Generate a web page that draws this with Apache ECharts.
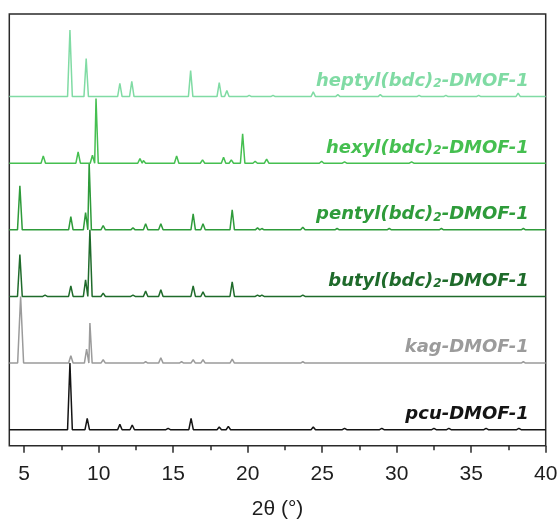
<!DOCTYPE html>
<html><head><meta charset="utf-8">
<script src="https://cdn.jsdelivr.net/npm/echarts@6/dist/echarts.min.js"></script>
<style>html,body{margin:0;padding:0;background:#fff}#c{width:560px;height:519px}</style>
</head><body><div id="c"></div>
<script>
// Peak lists: [2theta, relative height, optional half-width]
const pcuPeaks = [[8.07,1.0,0.16],[9.23,0.17],[11.42,0.08],[12.25,0.07],[14.66,0.02],[16.2,0.17],[18.09,0.04],[18.7,0.05],[24.4,0.04],[26.5,0.02],[29.0,0.02],[32.5,0.02],[33.5,0.02],[36.0,0.02],[38.2,0.02]];
const kagPeaks = [[4.76,1.0,0.2],[8.13,0.11],[9.19,0.21],[9.41,0.6],[10.3,0.05],[13.15,0.02],[14.17,0.08],[15.56,0.02],[16.34,0.05],[17.0,0.05],[18.96,0.06],[23.7,0.02],[38.5,0.02]];
const butylPeaks = [[4.71,0.63,0.16],[6.4,0.02],[8.13,0.16],[9.12,0.25],[9.41,1.0],[10.3,0.05],[12.3,0.02],[13.15,0.08],[14.17,0.1],[16.34,0.16],[17.0,0.07],[18.96,0.22],[20.66,0.02],[20.95,0.02],[23.7,0.02]];
const pentylPeaks = [[4.71,0.66,0.16],[8.13,0.2],[9.12,0.26],[9.36,1.0],[10.3,0.065],[12.3,0.03],[13.15,0.09],[14.17,0.09],[16.34,0.24],[17.0,0.09],[18.96,0.3],[20.66,0.03],[20.95,0.02],[23.7,0.04],[26.0,0.02],[29.5,0.02],[33.0,0.02],[38.5,0.02]];
const hexylPeaks = [[6.28,0.11],[8.62,0.17],[9.58,0.12],[9.82,0.97],[12.77,0.07],[13.0,0.04],[15.23,0.11],[16.97,0.05],[18.38,0.09],[18.9,0.05],[19.66,0.44],[20.5,0.03],[21.27,0.06],[24.96,0.03],[26.5,0.02],[31.0,0.02]];
const heptylPeaks = [[8.07,1.0,0.16],[9.16,0.57],[11.42,0.2],[12.22,0.23],[16.17,0.39],[18.09,0.21],[18.6,0.09],[20.1,0.02],[21.7,0.02],[24.4,0.07],[26.05,0.03],[28.9,0.03],[31.5,0.02],[33.3,0.02],[35.5,0.02],[38.15,0.05]];

const patterns = [pcuPeaks, kagPeaks, butylPeaks, pentylPeaks, hexylPeaks, heptylPeaks];
const offsets = [0, 1, 2, 3, 4, 5];
const labelParts = [
  ['pcu-DMOF-1'],
  ['kag-DMOF-1'],
  ['butyl(bdc)', '2', '-DMOF-1'],
  ['pentyl(bdc)', '2', '-DMOF-1'],
  ['hexyl(bdc)', '2', '-DMOF-1'],
  ['heptyl(bdc)', '2', '-DMOF-1']
];
const colors = ['#141414', '#9b9b9b', '#1f6b2b', '#2e9b3a', '#45bf50', '#80dba4'];
const xLabelValues = [5, 10, 15, 20, 25, 30, 35, 40];
const xMinorValues = [7.5, 12.5, 17.5, 22.5, 27.5, 32.5, 37.5];
const xMin = 4, xMax = 40;

function buildLine(peaks, off) {
  const pts = [[xMin, off]];
  peaks.forEach(p => {
    const w = p[2] || 0.15;
    const last = pts[pts.length - 1][0];
    if (p[0] - w > last) pts.push([p[0] - w, off]);
    pts.push([p[0], off + p[1]]);
    pts.push([p[0] + w, off]);
  });
  pts.push([xMax, off]);
  return pts;
}

const chart = echarts.init(document.getElementById('c'), null, {renderer: 'canvas'});
const series = patterns.map((pk, i) => ({
  type: 'line',
  data: buildLine(pk, offsets[i]),
  showSymbol: false,
  symbol: 'none',
  smooth: false,
  animation: false,
  lineStyle: {color: colors[i], width: 1.5},
  z: 2 + i
}));

chart.setOption({
  animation: false,
  grid: {left: 9.3, right: 14.3, top: 14, bottom: 73.3, outerBoundsMode: 'none', containLabel: false, show: true, borderColor: '#2a2a2a', borderWidth: 1.5, backgroundColor: 'transparent'},
  xAxis: [{
    type: 'value', min: xMin, max: xMax, position: 'bottom',
    axisLine: {show: false, onZero: false},
    splitLine: {show: false},
    axisTick: {show: true, inside: false, length: 7, customValues: xLabelValues, lineStyle: {color: '#2a2a2a', width: 1.5}},
    axisLabel: {customValues: xLabelValues, fontSize: 21, color: '#1e1e1e', margin: 18, fontFamily: 'Liberation Sans'},
    name: '2θ (°)', nameLocation: 'middle', nameGap: 53,
    nameTextStyle: {fontSize: 21, color: '#1e1e1e', fontFamily: 'Liberation Sans'}
  }, {
    type: 'value', min: xMin, max: xMax, position: 'bottom', gridIndex: 0,
    axisLine: {show: false, onZero: false}, splitLine: {show: false},
    axisTick: {show: true, inside: false, length: 4.5, customValues: xMinorValues, lineStyle: {color: '#2a2a2a', width: 1.5}},
    axisLabel: {show: false}
  }],
  yAxis: {type: 'value', min: -0.24, max: 6.24, show: false, splitLine: {show: false}},
  series: series
});

// Sample labels, anchored in data coordinates
const labelX = 38.86, labelRise = 0.26;
const labelFont = 'DejaVu Sans';
const graphics = labelParts.map((parts, i) => {
  const pos = chart.convertToPixel({gridIndex: 0}, [labelX, offsets[i] + labelRise]);
  let text;
  if (parts.length === 1) text = '{m|' + parts[0] + '}';
  else text = '{m|' + parts[0] + '}{s|' + parts[1] + '}{m|' + parts[2] + '}';
  return {
    type: 'text', x: pos[0], y: pos[1], z: 100,
    style: {
      text: text, align: 'right', verticalAlign: 'middle',
      fill: colors[i],
      rich: {
        m: {fontSize: 18, fontWeight: 'bold', fontStyle: 'italic', fontFamily: labelFont, fill: colors[i], lineHeight: 22, verticalAlign: 'bottom'},
        s: {fontSize: 12, fontWeight: 'bold', fontStyle: 'italic', fontFamily: labelFont, fill: colors[i], lineHeight: 6, verticalAlign: 'bottom'}
      }
    }
  };
});
chart.setOption({graphic: graphics});
</script></body></html>
